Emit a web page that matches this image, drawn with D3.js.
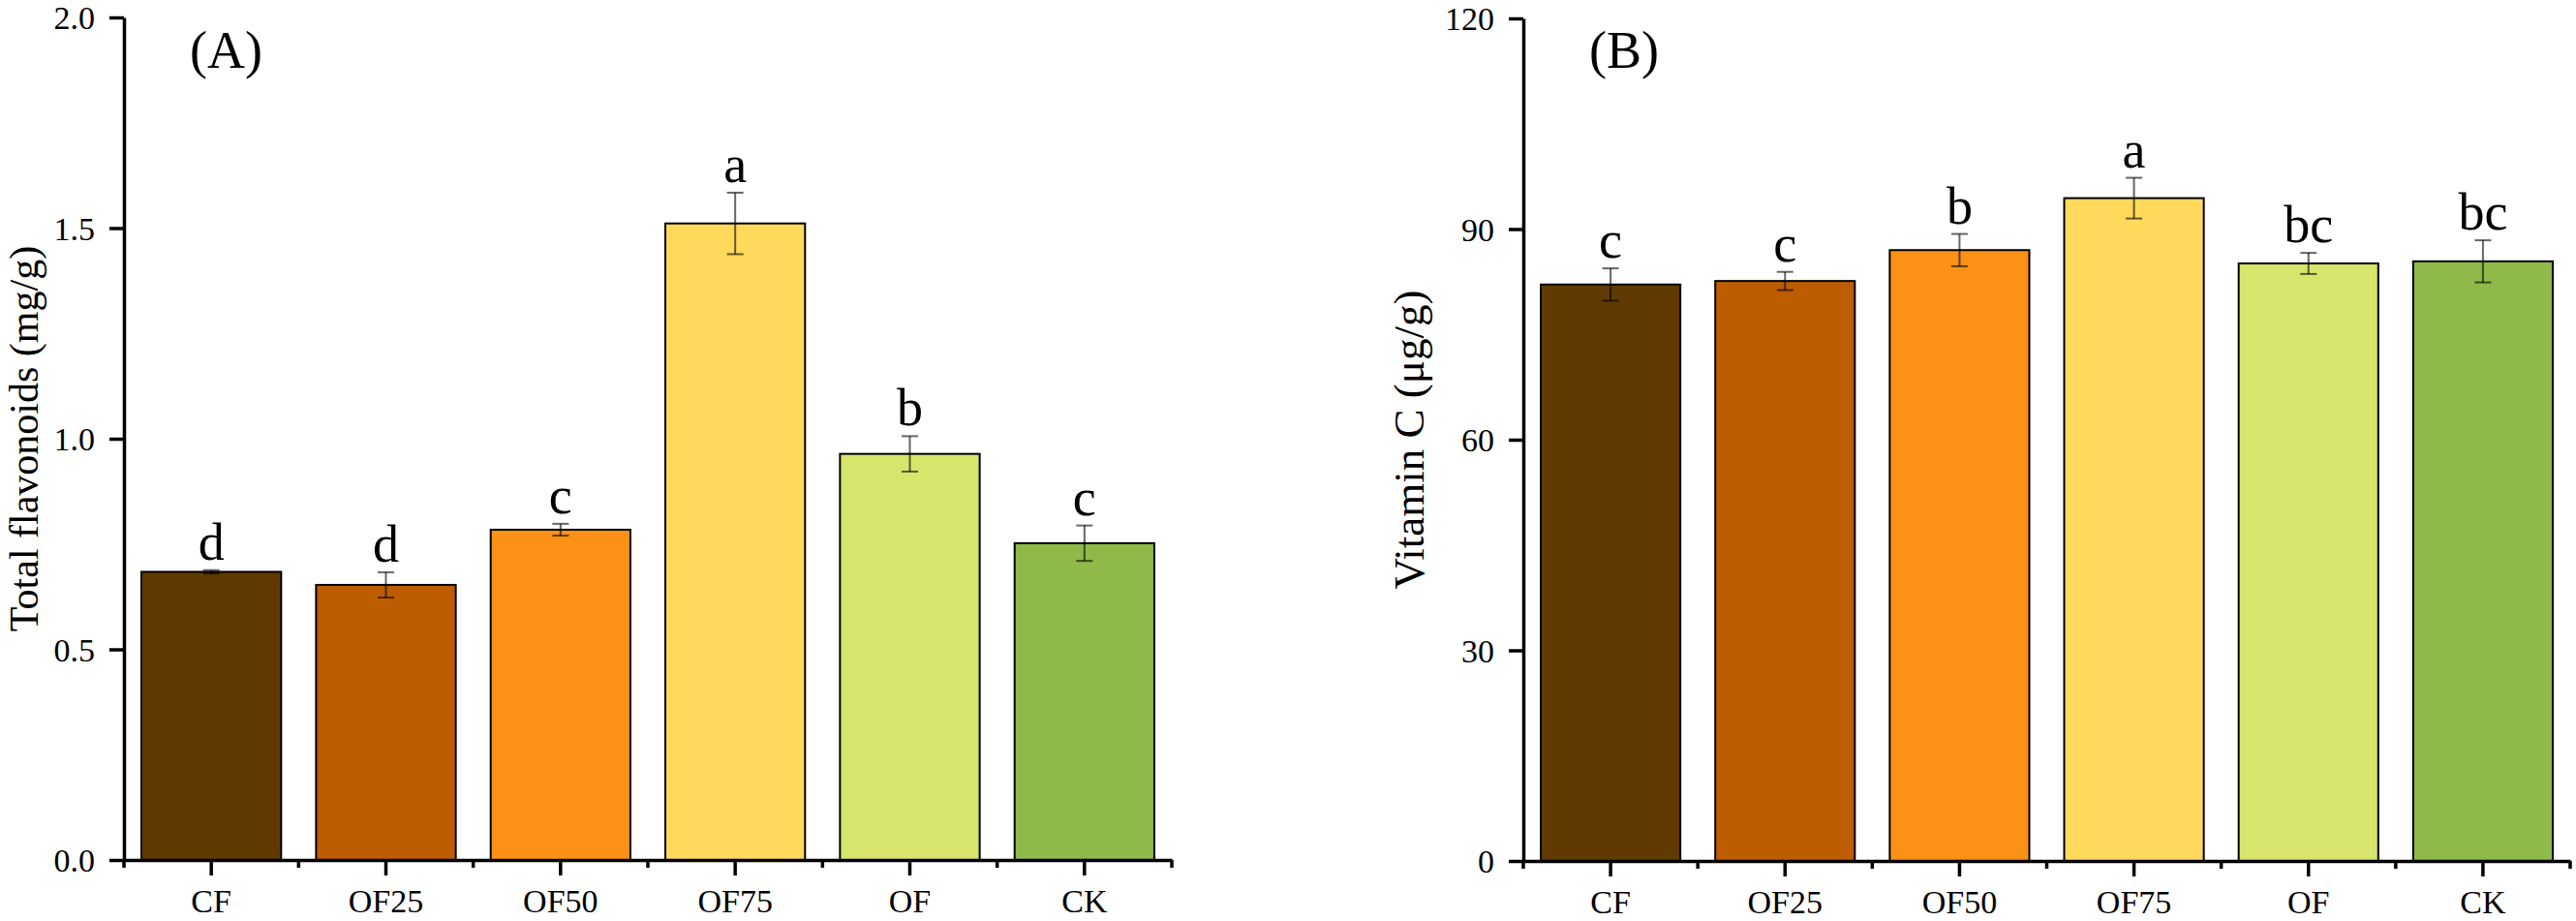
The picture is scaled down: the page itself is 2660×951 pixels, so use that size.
<!DOCTYPE html>
<html>
<head>
<meta charset="utf-8">
<script src="https://cdn.jsdelivr.net/npm/d3@7"></script>
<style>
  body { margin: 0; background: #fff; }
  text { font-family: "Liberation Serif", "Times New Roman", serif; fill: #000; }
</style>
</head>
<body>
<div id="chart"></div>
<script>
var groups = ["CF", "OF25", "OF50", "OF75", "OF", "CK"],
    colors = ["#603a00", "#bd5c00", "#fb9116", "#fed95c", "#d8e56c", "#8fb948"];

// (A) total flavonoids, mg/g
var flavMean = [0.684, 0.653, 0.784, 1.511, 0.964, 0.752],
    flavErr = [0.004, 0.030, 0.014, 0.073, 0.042, 0.042],
    flavLetters = ["d", "d", "c", "a", "b", "c"],
    flavTicks = [0, 0.5, 1.0, 1.5, 2.0];

// (B) vitamin C, ug/g
var vcMean = [82.1, 82.6, 87.0, 94.4, 85.1, 85.4],
    vcErr = [2.3, 1.3, 2.3, 2.9, 1.5, 3.0],
    vcLetters = ["c", "c", "b", "a", "bc", "bc"],
    vcTicks = [0, 30, 60, 90, 120];

var width = 2660, height = 951;

var svg = d3.select("#chart").append("svg")
    .attr("width", width)
    .attr("height", height);

var panels = [
  { left: 128, right: 1210, top: 18, bottom: 888, max: 2.0, ticks: flavTicks, fmt: d3.format(".1f"),
    mean: flavMean, err: flavErr, letters: flavLetters, tag: "(A)",
    title: "Total flavonoids (mg/g)", titleX: 39, titleSize: 42 },
  { left: 1573, right: 2654, top: 19, bottom: 889, max: 120, ticks: vcTicks, fmt: d3.format("d"),
    mean: vcMean, err: vcErr, letters: vcLetters, tag: "(B)",
    title: "Vitamin C (\u03bcg/g)", titleX: 1470, titleSize: 45 }
];

panels.forEach(function(p) {
  var x = d3.scaleBand().domain(groups).range([p.left, p.right])
      .paddingInner(0.2).paddingOuter(0.1);
  var y = d3.scaleLinear().domain([0, p.max]).range([p.bottom, p.top]);
  var rows = groups.map(function(g, i) {
    return { g: g, mean: p.mean[i], err: p.err[i], letter: p.letters[i], color: colors[i] };
  });

  var g = svg.append("g");

  // bars
  g.selectAll(".bar")
      .data(rows)
      .enter().append("rect")
        .attr("class", "bar")
        .attr("x", function(d) { return x(d.g); })
        .attr("y", function(d) { return y(d.mean); })
        .attr("width", x.bandwidth())
        .attr("height", function(d) { return y(0) - y(d.mean); })
        .style("fill", function(d) { return d.color; })
        .style("stroke", "#000")
        .style("stroke-width", 2);

  // error bars
  var eb = g.selectAll(".err")
      .data(rows)
      .enter().append("g")
        .attr("class", "err")
        .attr("transform", function(d) { return "translate(" + (x(d.g) + x.bandwidth() / 2) + ",0)"; })
        .style("stroke", "#000")
        .style("stroke-opacity", 0.6)
        .style("stroke-width", 2);
  eb.append("line")
      .attr("y1", function(d) { return y(d.mean + d.err); })
      .attr("y2", function(d) { return y(d.mean - d.err); });
  eb.append("line")
      .attr("x1", -8.5).attr("x2", 8.5)
      .attr("y1", function(d) { return y(d.mean + d.err); })
      .attr("y2", function(d) { return y(d.mean + d.err); });
  eb.append("line")
      .attr("x1", -8.5).attr("x2", 8.5)
      .attr("y1", function(d) { return y(d.mean - d.err); })
      .attr("y2", function(d) { return y(d.mean - d.err); });

  // significance letters
  g.selectAll(".letter")
      .data(rows)
      .enter().append("text")
        .attr("class", "letter")
        .attr("x", function(d) { return x(d.g) + x.bandwidth() / 2; })
        .attr("y", function(d) { return y(d.mean + d.err) - 11; })
        .style("text-anchor", "middle")
        .style("font-size", "54px")
        .text(function(d) { return d.letter; });

  // y axis
  var yAxis = g.append("g")
      .attr("transform", "translate(" + p.left + ",0)")
      .call(d3.axisLeft(y).tickValues(p.ticks).tickFormat(p.fmt).tickSize(15).tickSizeOuter(0));
  yAxis.select(".domain").style("stroke-width", 3.5);
  yAxis.selectAll(".tick line").style("stroke-width", 3.5);
  yAxis.selectAll(".tick text")
      .attr("x", -30)
      .attr("dy", "0.34em")
      .style("font-size", "34px")
      .style("font-family", "'Liberation Serif', 'Times New Roman', serif");

  // x axis
  var xAxis = g.append("g")
      .attr("transform", "translate(0," + p.bottom + ")")
      .call(d3.axisBottom(x).tickSize(16).tickSizeOuter(0));
  xAxis.select(".domain").style("stroke-width", 3.5);
  xAxis.selectAll(".tick line").style("stroke-width", 3.5);
  xAxis.selectAll(".tick text")
      .attr("y", 54)
      .attr("dy", 0)
      .style("font-size", "34px")
      .style("font-family", "'Liberation Serif', 'Times New Roman', serif");

  // minor ticks on category boundaries
  var bounds = d3.range(groups.length + 1).map(function(i) { return p.left + i * x.step(); });
  xAxis.selectAll(".minor")
      .data(bounds)
      .enter().append("line")
        .attr("class", "minor")
        .attr("x1", function(d) { return d; })
        .attr("x2", function(d) { return d; })
        .attr("y1", 0)
        .attr("y2", 8)
        .style("stroke", "#000")
        .style("stroke-width", 3.5);

  // axis title
  svg.append("text")
      .attr("transform", "translate(" + p.titleX + "," + ((p.top + p.bottom) / 2) + ") rotate(-90)")
      .style("text-anchor", "middle")
      .style("font-size", p.titleSize + "px")
      .text(p.title);

  // panel tag
  svg.append("text")
      .attr("x", p.left + 68)
      .attr("y", 70)
      .style("font-size", "54px")
      .text(p.tag);
});
</script>
</body>
</html>
